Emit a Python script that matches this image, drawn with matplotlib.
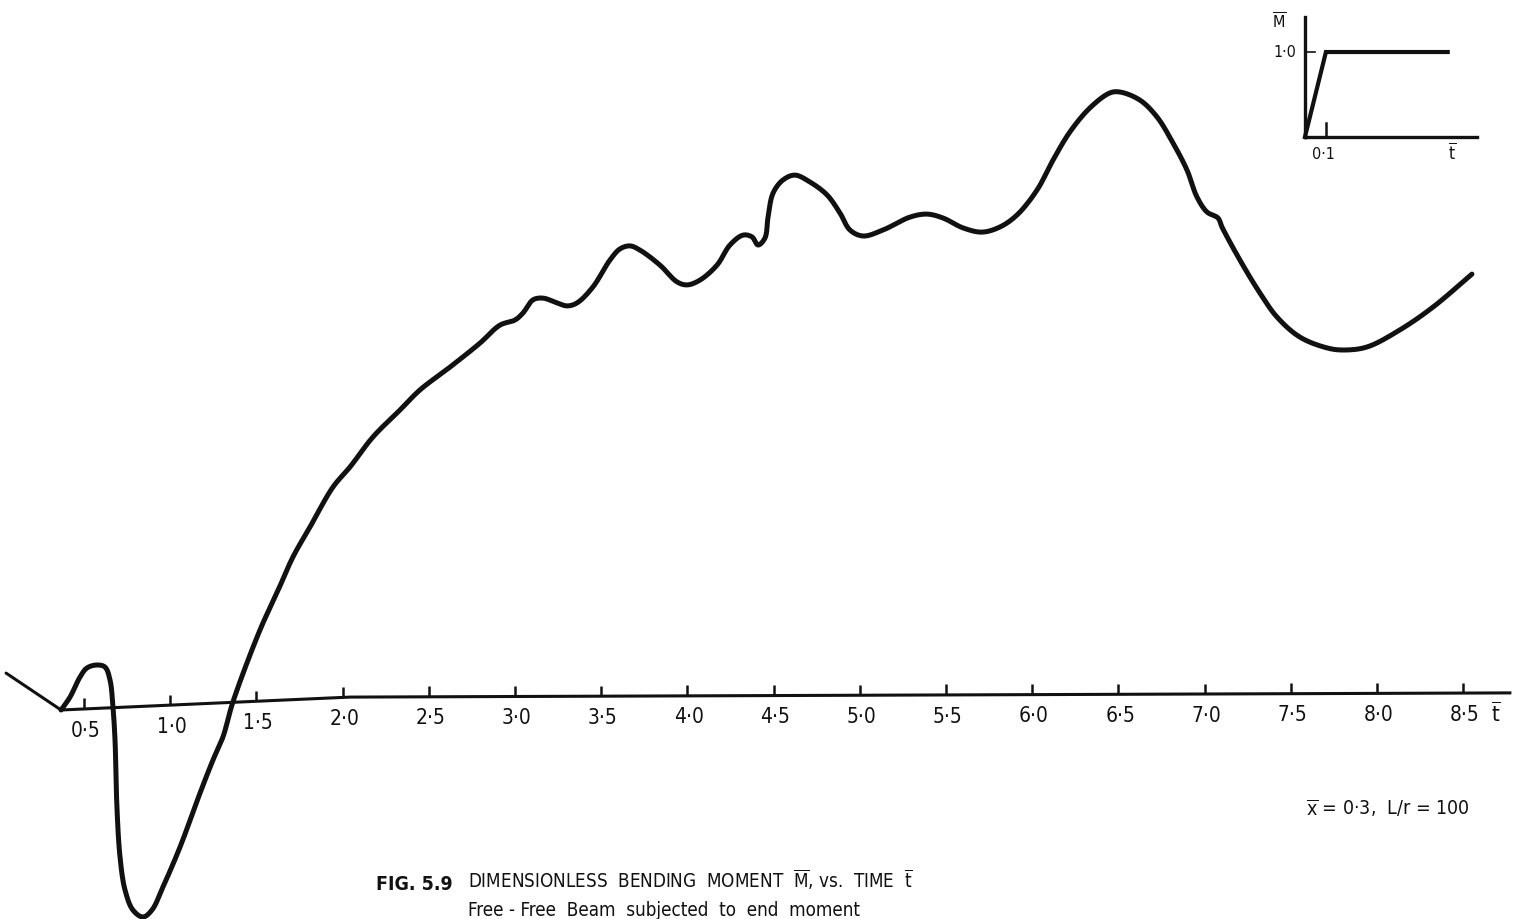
import matplotlib.pyplot as plt
import numpy as np

plt.rcParams["font.family"] = ["DejaVu Sans"]
plt.rcParams["font.stretch"] = "condensed"
plt.rcParams["mathtext.fontset"] = "dejavusans"

# Dimensionless time t and bending moment M
t_lead = [0.048, 0.367]
m_lead = [0.073, -0.050]

t_bar = [0.367, 0.419, 0.477, 0.517, 0.575, 0.622, 0.651, 0.668, 0.680, 0.691,
         0.709, 0.738, 0.784, 0.842, 0.894, 0.958, 1.057, 1.173, 1.248, 1.306,
         1.364, 1.521, 1.619, 1.712, 1.811, 1.944, 2.043, 2.176, 2.333, 2.449,
         2.623, 2.797, 2.913, 3.000, 3.046, 3.104, 3.162, 3.244, 3.302, 3.360,
         3.452, 3.551, 3.609, 3.667, 3.725, 3.841, 3.940, 3.998, 4.073, 4.172,
         4.247, 4.323, 4.375, 4.410, 4.450, 4.468, 4.497, 4.555, 4.624, 4.711,
         4.810, 4.885, 4.943, 5.019, 5.135, 5.291, 5.390, 5.483, 5.599, 5.709,
         5.813, 5.912, 6.028, 6.121, 6.219, 6.335, 6.451, 6.509, 6.625, 6.724,
         6.817, 6.898, 6.956, 7.014, 7.078, 7.101, 7.205, 7.321, 7.420, 7.553,
         7.710, 7.803, 7.942, 8.133, 8.325, 8.551]
m_bar = [-0.050, -0.007, 0.060, 0.090, 0.100, 0.093, 0.050, -0.040, -0.150, -0.373,
         -0.540, -0.650, -0.717, -0.740, -0.717, -0.640, -0.507, -0.327, -0.217, -0.140,
         -0.023, 0.217, 0.340, 0.460, 0.560, 0.693, 0.760, 0.860, 0.950, 1.017,
         1.093, 1.173, 1.233, 1.250, 1.273, 1.317, 1.323, 1.307, 1.297, 1.307,
         1.360, 1.450, 1.487, 1.497, 1.483, 1.433, 1.377, 1.367, 1.383, 1.433,
         1.500, 1.533, 1.527, 1.500, 1.523, 1.593, 1.673, 1.717, 1.733, 1.710,
         1.667, 1.607, 1.550, 1.530, 1.550, 1.593, 1.603, 1.590, 1.557, 1.543,
         1.560, 1.600, 1.683, 1.783, 1.877, 1.957, 2.007, 2.010, 1.983, 1.927,
         1.840, 1.750, 1.660, 1.610, 1.590, 1.560, 1.450, 1.340, 1.260, 1.193,
         1.157, 1.150, 1.160, 1.217, 1.293, 1.403]

# hand drawn time axis (slightly tilted in the scan)
axis_t = [0.367, 2.043, 8.771]
axis_m = [-0.050, -0.007, 0.007]

tick_values = np.arange(0.5, 8.75, 0.5)
tick_labels = [f"{v:.1f}".replace(".", "\u00b7") for v in tick_values]

# applied end moment (inset): ramp to 1.0 at t = 0.1
load_t = [0.0, 0.1, 0.68]
load_m = [0.0, 1.0, 1.0]


def smooth(x, y, n=14, sx=172.4, sy=300.0):
    # centripetal Catmull-Rom through the read points, like a french curve
    p = np.column_stack([np.asarray(x) * sx, np.asarray(y) * sy])
    p = np.vstack([2 * p[0] - p[1], p, 2 * p[-1] - p[-2]])
    out = []
    for i in range(1, len(p) - 2):
        p0, p1, p2, p3 = p[i - 1], p[i], p[i + 1], p[i + 2]
        k0 = 0.0
        k1 = k0 + max(np.linalg.norm(p1 - p0), 1e-6) ** 0.5
        k2 = k1 + max(np.linalg.norm(p2 - p1), 1e-6) ** 0.5
        k3 = k2 + max(np.linalg.norm(p3 - p2), 1e-6) ** 0.5
        k = np.linspace(k1, k2, n, endpoint=False)[:, None]
        a1 = (k1 - k) / (k1 - k0) * p0 + (k - k0) / (k1 - k0) * p1
        a2 = (k2 - k) / (k2 - k1) * p1 + (k - k1) / (k2 - k1) * p2
        a3 = (k3 - k) / (k3 - k2) * p2 + (k - k2) / (k3 - k2) * p3
        b1 = (k2 - k) / (k2 - k0) * a1 + (k - k0) / (k2 - k0) * a2
        b2 = (k3 - k) / (k3 - k1) * a2 + (k - k1) / (k3 - k1) * a3
        out.append((k2 - k) / (k2 - k1) * b1 + (k - k1) / (k2 - k1) * b2)
    out.append(p[-2][None, :])
    c = np.vstack(out)
    return c[:, 0] / sx, c[:, 1] / sy


fig = plt.figure(figsize=(15.29, 9.19), dpi=100)
ax = fig.add_axes([0, 0, 1, 1])
ax.set_xlim(0.0128, 8.882)
ax.set_ylim(-0.7467, 2.3167)
ax.axis("off")

ink = "#111111"
ax.plot(t_lead, m_lead, color=ink, lw=2.2, solid_capstyle="round")
cx, cy = smooth(t_bar, m_bar)
ax.plot(cx, cy, color=ink, lw=3.6, solid_capstyle="round", solid_joinstyle="round")
ax.plot(axis_t, axis_m, color=ink, lw=2.2)

tick_base = np.interp(tick_values, axis_t, axis_m)
ax.vlines(tick_values, tick_base, tick_base + 0.035, color=ink, lw=1.8)
for v, b, lab in zip(tick_values, tick_base, tick_labels):
    ax.text(v + 0.01, b - 0.072, lab, ha="center", va="center", fontsize=15, color=ink)
ax.text(8.69, -0.062, "$\\overline{\\mathrm{t}}$", ha="center", va="center", fontsize=16, color=ink)

ax.text(8.539, -0.377, "$\\overline{\\mathrm{x}}$ = 0\u00b73,  L/r = 100",
        ha="right", va="center", fontsize=14, color=ink)

fig.text(376 / 1529, 1 - 884 / 919, "FIG. 5.9", ha="left", va="center",
         fontsize=14, fontweight="bold", color=ink)
fig.text(468 / 1529, 1 - 880 / 919,
         "DIMENSIONLESS  BENDING  MOMENT  $\\overline{\\mathrm{M}}$, vs.  TIME  $\\overline{\\mathrm{t}}$",
         ha="left", va="center", fontsize=13.5, color=ink)
fig.text(468 / 1529, 1 - 910 / 919, "Free - Free  Beam  subjected  to  end  moment",
         ha="left", va="center", fontsize=13.5, color=ink)

# inset: load history
ax_in = fig.add_axes([1260 / 1529, 1 - 170 / 919, 240 / 1529, 170 / 919])
ax_in.set_xlim(-0.214, 0.929)
ax_in.set_ylim(-0.388, 1.612)
ax_in.axis("off")
ax_in.patch.set_alpha(0)
ax_in.plot([0, 0], [0, 1.41], color=ink, lw=2.4)
ax_in.plot([0, 0.82], [0, 0], color=ink, lw=2.4)
ax_in.plot([0.1, 0.1], [0, 0.165], color=ink, lw=1.8)
ax_in.plot([0, 0.05], [1, 1], color=ink, lw=1.2)
ax_in.plot(load_t, load_m, color=ink, lw=3.0, solid_joinstyle="miter")
ax_in.text(-0.095, 0.99, "1\u00b70", ha="center", va="center", fontsize=11.5, color=ink)
ax_in.text(-0.124, 1.35, "$\\overline{\\mathrm{M}}$", ha="center", va="center", fontsize=11.5, color=ink)
ax_in.text(0.09, -0.2, "0\u00b71", ha="center", va="center", fontsize=11.5, color=ink)
ax_in.text(0.70, -0.18, "$\\overline{\\mathrm{t}}$", ha="center", va="center", fontsize=12.5, color=ink)

fig.savefig("out.png", dpi=100)
